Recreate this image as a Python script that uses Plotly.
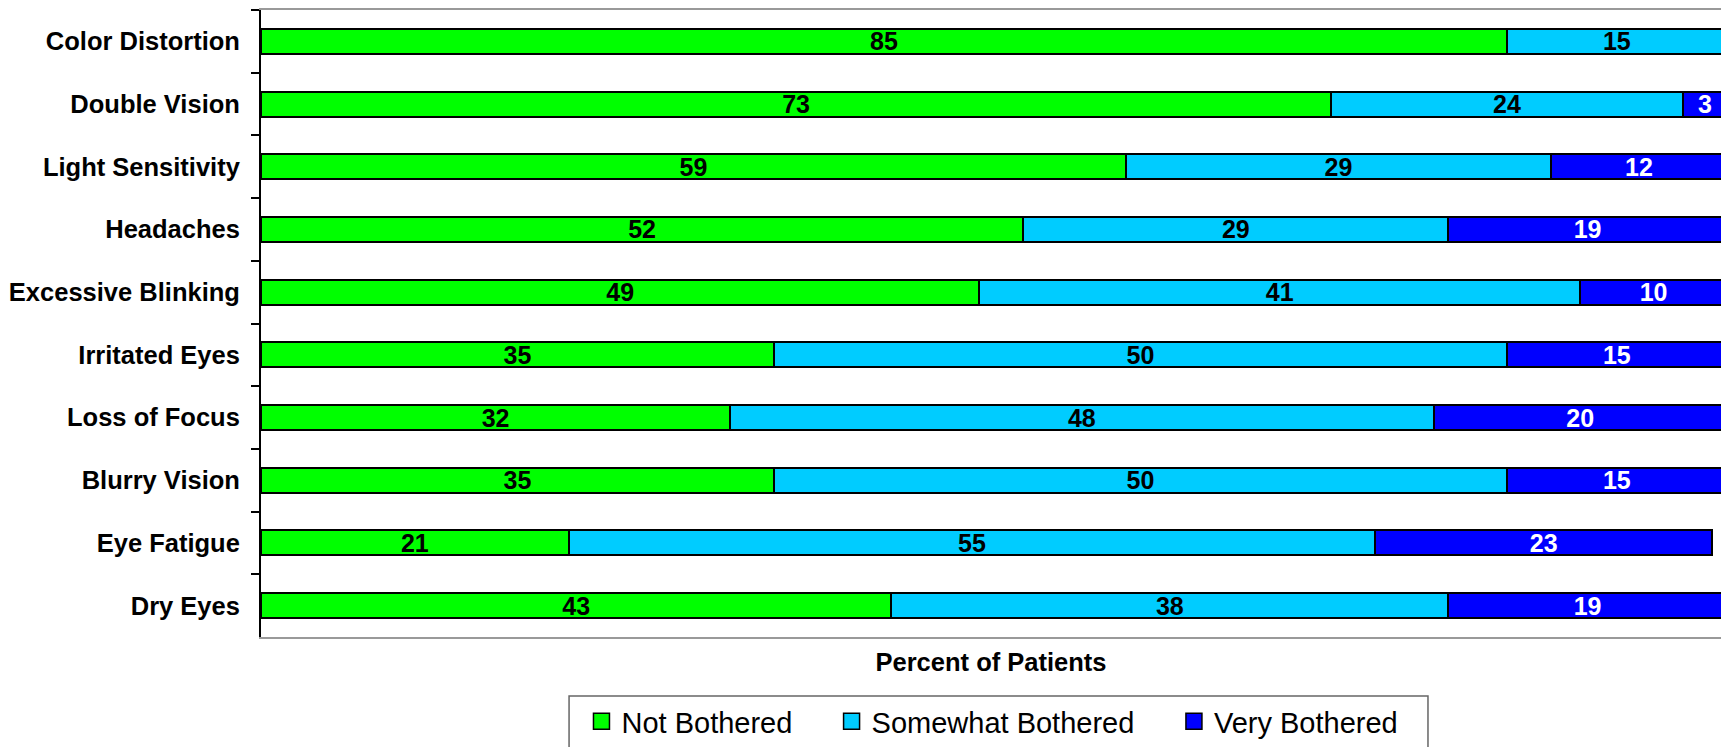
import plotly.graph_objects as go

# Symptom categories, top to bottom
symptoms = [
    "Color Distortion", "Double Vision", "Light Sensitivity", "Headaches",
    "Excessive Blinking", "Irritated Eyes", "Loss of Focus", "Blurry Vision",
    "Eye Fatigue", "Dry Eyes",
]

# Percent of patients per response level
not_bothered = [85, 73, 59, 52, 49, 35, 32, 35, 21, 43]
somewhat_bothered = [15, 24, 29, 29, 41, 50, 48, 50, 55, 38]
very_bothered = [None, 3, 12, 19, 10, 15, 20, 15, 23, 19]

series_names = ["Not Bothered", "Somewhat Bothered", "Very Bothered"]
series_values = [not_bothered, somewhat_bothered, very_bothered]
series_colors = ["#00FF00", "#00CCFF", "#0000FF"]
label_colors = ["#000000", "#000000", "#FFFFFF"]

FONT = "Liberation Sans, Arial, sans-serif"

fig = go.Figure()

for name, vals, col, tcol in zip(series_names, series_values, series_colors, label_colors):
    fig.add_trace(go.Bar(
        y=symptoms, x=vals, orientation="h", name=name,
        marker=dict(color=col, line=dict(color="#000000", width=2)),
        texttemplate="%{x}", textposition="inside", insidetextanchor="middle",
        textangle=0, constraintext="none",
        textfont=dict(family=FONT, size=25, color=tcol, weight="bold"),
        hoverinfo="skip", showlegend=False,
    ))

# Legend entries, each in its own legend so the spacing can be set freely
legend_ids = ["legend", "legend2", "legend3"]
for name, col, lid in zip(series_names, series_colors, legend_ids):
    fig.add_trace(go.Scatter(
        x=[None], y=[None], mode="markers", name=name, legend=lid,
        marker=dict(symbol="square", size=16, color=col,
                    line=dict(color="#000000", width=1.5)),
        showlegend=True, hoverinfo="skip",
    ))

legend_common = dict(
    orientation="h", yanchor="middle", xanchor="left", y=-0.134,
    font=dict(family=FONT, size=29, color="#000000"),
    bgcolor="rgba(0,0,0,0)", borderwidth=0,
)

fig.update_layout(
    width=1721, height=747,
    margin=dict(l=261, r=0, t=10, b=109),
    plot_bgcolor="#FFFFFF", paper_bgcolor="#FFFFFF",
    barmode="stack", bargap=0.6,
    font=dict(family=FONT, color="#000000"),
    legend=dict(x=0.2195, **legend_common),
    legend2=dict(x=0.3908, **legend_common),
    legend3=dict(x=0.6253, **legend_common),
    xaxis=dict(
        range=[0, 99.6], showgrid=False, zeroline=False,
        showticklabels=False, ticks="",
        showline=True, mirror=True, linecolor="#999999", linewidth=2,
        title=dict(text="Percent of Patients", standoff=15,
                   font=dict(family=FONT, size=25.5, weight="bold", color="#000000")),
    ),
    yaxis=dict(
        categoryorder="array", categoryarray=symptoms, autorange="reversed",
        showgrid=False, zeroline=False,
        showline=True, linecolor="#000000", linewidth=2,
        ticks="outside", tickson="boundaries", ticklen=8, tickwidth=1.5,
        tickcolor="#000000", ticklabelstandoff=14,
        tickfont=dict(family=FONT, size=25.5, weight="bold", color="#000000"),
    ),
    shapes=[dict(
        type="rect", xref="paper", yref="paper",
        x0=0.211, x1=0.7993, y0=-0.0939, y1=-0.2,
        line=dict(color="#666666", width=1.5), fillcolor="rgba(0,0,0,0)",
    )],
)

fig.write_html("out.html")
